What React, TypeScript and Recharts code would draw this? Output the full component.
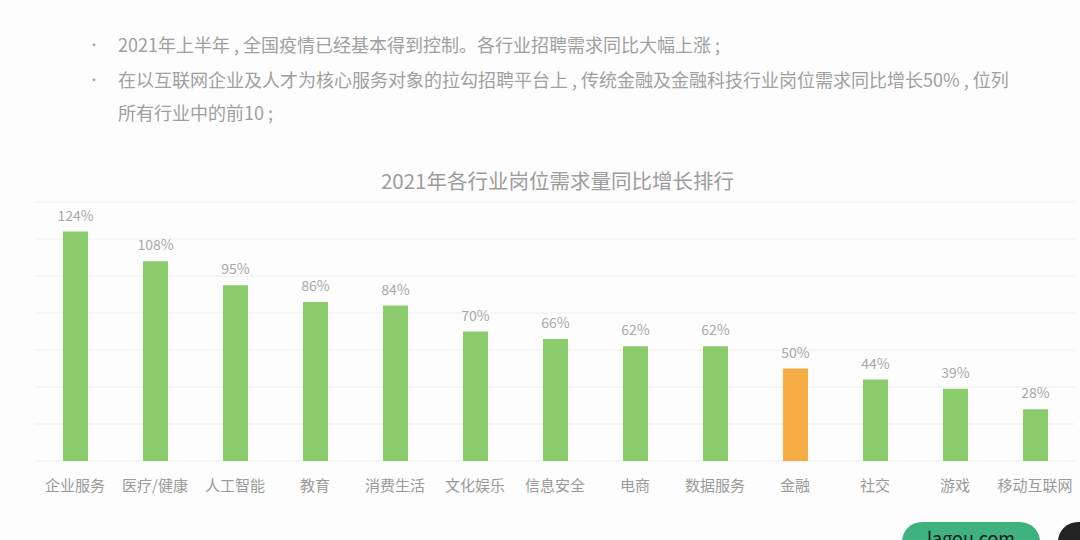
import { Bar, BarChart, CartesianGrid, Cell, LabelList, XAxis, YAxis } from "recharts"

const industries = [
  "企业服务",
  "医疗/健康",
  "人工智能",
  "教育",
  "消费生活",
  "文化娱乐",
  "信息安全",
  "电商",
  "数据服务",
  "金融",
  "社交",
  "游戏",
  "移动互联网",
]

const growth = [124, 108, 95, 86, 84, 70, 66, 62, 62, 50, 44, 39, 28]

const yTicks = [0, 20, 40, 60, 80, 100, 120, 140]

const highlight = "金融"

const notes = [
  "2021年上半年 , 全国疫情已经基本得到控制。各行业招聘需求同比大幅上涨 ;",
  "在以互联网企业及人才为核心服务对象的拉勾招聘平台上 , 传统金融及金融科技行业岗位需求同比增长50% , 位列所有行业中的前10 ;",
]

const data = industries.map((name, i) => ({ name, value: growth[i] }))

const font = '"Noto Sans CJK SC", "Noto Sans", sans-serif'

export default function App() {
  return (
    <div
      style={{
        position: "absolute",
        left: 0,
        top: 0,
        width: 1080,
        height: 540,
        overflow: "hidden",
        background: "#fdfdfd",
        fontFamily: font,
      }}
    >
      <div style={{ position: "absolute", left: 88, top: 28, width: 922, color: "#a0a0a0", fontSize: 18 }}>
        {notes.map((t) => (
          <div key={t} style={{ display: "flex", lineHeight: "33px", marginBottom: 2 }}>
            <span style={{ width: 30, flexShrink: 0, fontSize: 12 }}>•</span>
            <span>{t}</span>
          </div>
        ))}
      </div>

      <div
        style={{
          position: "absolute",
          top: 165,
          left: 0,
          width: 1115,
          textAlign: "center",
          fontSize: 20.5,
          color: "#9c9c9c",
        }}
      >
        2021年各行业岗位需求量同比增长排行
      </div>

      <div style={{ position: "absolute", left: 0, top: 160 }}>
        <BarChart
          width={1080}
          height={340}
          data={data}
          margin={{ top: 42, right: 5, bottom: 9, left: 35 }}
          style={{ fontFamily: font }}
        >
          <CartesianGrid vertical={false} stroke="#efefef" />
          <YAxis hide domain={[0, 140]} ticks={yTicks} />
          <XAxis
            dataKey="name"
            axisLine={false}
            tickLine={false}
            interval={0}
            tickMargin={13}
            tick={{ fill: "#9a9a9a", fontSize: 15 }}
          />
          <Bar dataKey="value" barSize={25} isAnimationActive={false}>
            {data.map((d) => (
              <Cell key={d.name} fill={d.name === highlight ? "#f6ad45" : "#8acc6c"} />
            ))}
            <LabelList
              dataKey="value"
              position="top"
              offset={11}
              formatter={(v: number) => `${v}%`}
              style={{ fill: "#a8a8a8", fontSize: 14 }}
            />
          </Bar>
        </BarChart>
      </div>

      <div
        style={{
          position: "absolute",
          left: 902,
          top: 522,
          width: 138,
          height: 40,
          borderRadius: 20,
          background: "#3fb27f",
          color: "#1a1a1a",
          fontSize: 18,
          textAlign: "center",
          lineHeight: "30px",
        }}
      >
        lagou.com
      </div>
      <div
        style={{
          position: "absolute",
          left: 1058,
          top: 522,
          width: 40,
          height: 40,
          borderRadius: 20,
          background: "#222",
        }}
      />
    </div>
  )
}
